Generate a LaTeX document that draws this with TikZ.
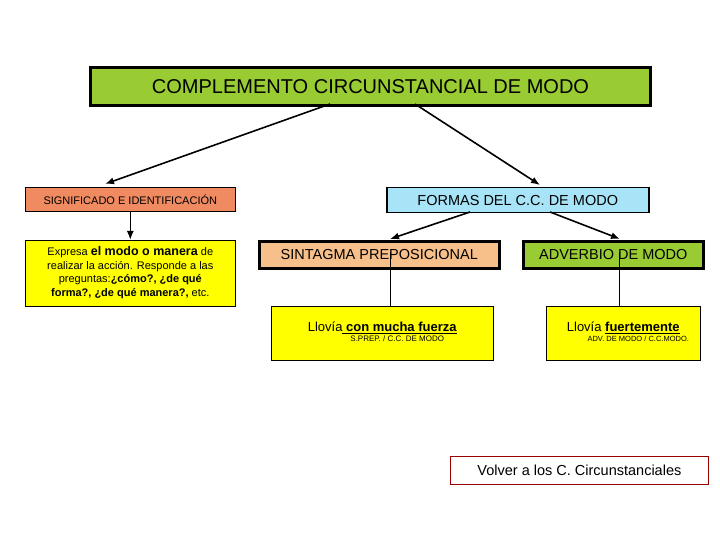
\documentclass[tikz,border=0pt]{standalone}
\usepackage{fontspec}
\setmainfont{Liberation Sans}
\usetikzlibrary{arrows.meta}
\begin{document}
\begin{tikzpicture}[x=1pt,y=-1pt,
  box/.style={draw=black,anchor=north west,inner sep=0pt,align=center},
  arr/.style={-{Latex[length=9pt,width=7pt]},line width=1.6pt}]
\useasboundingbox (0,0) rectangle (720,540);
\definecolor{grn}{HTML}{99CC33}
\definecolor{org}{HTML}{F7C08A}
\definecolor{sal}{HTML}{F08A60}
\definecolor{blu}{HTML}{A8E4F8}
\definecolor{yel}{HTML}{FFFF00}
\node[box,fill=grn,line width=3pt,minimum width=560,minimum height=38] (top) at (89,66) {\fontsize{20}{24}\selectfont COMPLEMENTO CIRCUNSTANCIAL DE MODO};
\node[box,fill=sal,line width=0.6pt,minimum width=210,minimum height=24] (sig) at (25,187) {\fontsize{11}{13}\selectfont SIGNIFICADO E IDENTIFICACI\'ON};
\node[box,fill=blu,line width=1.5pt,minimum width=262,minimum height=25] (for) at (386,187) {\fontsize{14.5}{17}\selectfont FORMAS DEL C.C. DE MODO};
\node[box,fill=yel,line width=0.6pt,minimum width=210,minimum height=66] (exp) at (25,240) {\fontsize{11}{13.5}\selectfont\begin{tabular}{@{}c@{}}Expresa {\fontsize{12.5}{13.5}\selectfont\textbf{el modo o manera}} de\\ realizar la acci\'on. Responde a las\\ preguntas:\textbf{¿cómo?, ¿de qué}\\ \textbf{forma?, ¿de qué manera?,} etc.\end{tabular}};
\node[box,fill=org,line width=2.5pt,minimum width=240,minimum height=27] (sp) at (258,240) {\fontsize{14.5}{17}\selectfont SINTAGMA PREPOSICIONAL};
\node[box,fill=grn,line width=2.5pt,minimum width=180,minimum height=27] (adv) at (522,240) {\fontsize{14.5}{17}\selectfont ADVERBIO DE MODO};
\node[box,fill=yel,line width=0.5pt,minimum width=222,minimum height=54] (e1) at (271,306) {\begin{tabular}{@{}c@{}}\fontsize{13}{15}\selectfont Llov\'ia\underline{\textbf{ con mucha fuerza}}\\[-2pt]\hspace*{3em}\fontsize{8}{9}\selectfont S.PREP. / C.C. DE MODO\end{tabular}};
\node[box,fill=yel,line width=0.5pt,minimum width=154,minimum height=54] (e2) at (546,306) {\begin{tabular}{@{}c@{}}\fontsize{13}{15}\selectfont Llov\'ia \underline{\textbf{fuertemente}}\\[-2pt]\hspace*{3em}\fontsize{7.5}{9}\selectfont ADV. DE MODO / C.C.MODO.\end{tabular}};
\node[box,fill=white,draw=red!60!black,line width=0.8pt,minimum width=258,minimum height=28] (vol) at (450,456) {\fontsize{14.5}{17}\selectfont Volver a los C. Circunstanciales};
\coordinate (t1) at (330,104); \coordinate (t2) at (415,104);
\coordinate (f1) at (470,212); \coordinate (f2) at (550,212);
\draw[arr] (t1) -- (105,184);
\draw[arr] (t2) -- (540,185);
\draw[arr] (f1) -- (390,239);
\draw[arr] (f2) -- (620,239);
\draw[arr] (sig.south) -- (exp.north);
\draw (390,252) -- (e1.north -| 390,0);
\draw (619,252) -- (e2.north -| 619,0);
\end{tikzpicture}
\end{document}
